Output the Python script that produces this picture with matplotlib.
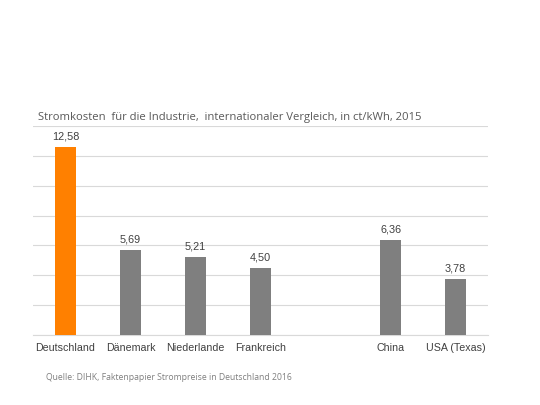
import matplotlib
matplotlib.use("Agg")
import matplotlib.pyplot as plt
import numpy as np

# Data (slot 5 is an empty gap between Europe and the rest)
countries = ["Deutschland", "Dänemark", "Niederlande", "Frankreich", "", "China", "USA (Texas)"]
costs = [12.58, 5.69, 5.21, 4.50, np.nan, 6.36, 3.78]
value_labels = ["12,58", "5,69", "5,21", "4,50", "", "6,36", "3,78"]

title = "Stromkosten  für die Industrie,  internationaler Vergleich, in ct/kWh, 2015"
source = "Quelle: DIHK, Faktenpapier Strompreise in Deutschland 2016"

colors = ["#FF8000" if c == "Deutschland" else "#7F7F7F" for c in countries]

fig = plt.figure(figsize=(5.4, 4.05), dpi=100)
ax = fig.add_axes([0.061, 0.173, 0.843, 0.516])

x_pos = np.arange(len(countries))
ax.bar(x_pos, costs, width=0.32, color=colors, zorder=3)

# value labels above bars
for i, (v, lab) in enumerate(zip(costs, value_labels)):
    if np.isnan(v):
        continue
    ax.text(x_pos[i], v + 0.35, lab, ha="center", va="bottom",
            fontsize=7.8, color="#404040", family="Liberation Sans")

ax.set_xlim(-0.5, len(countries) - 0.5)
ax.set_ylim(0, 14)
ax.set_yticks(np.arange(0, 15, 2))
ax.yaxis.grid(True, color="#D9D9D9", lw=0.8, zorder=0)
ax.tick_params(axis="y", left=False, labelleft=False)
ax.tick_params(axis="x", length=0, pad=6)
ax.set_xticks(x_pos)
ax.set_xticklabels(countries, fontsize=7.7, color="#404040", family="Liberation Sans")

for side in ["top", "right", "left"]:
    ax.spines[side].set_visible(False)
ax.spines["bottom"].set_color("#D9D9D9")
ax.spines["bottom"].set_linewidth(0.8)

fig.text(0.07, 0.709, title, fontsize=8.1, color="#595959", family="Open Sans",
         va="center", ha="left")
fig.text(0.085, 0.067, source, fontsize=6.2, color="#7F7F7F", family="Open Sans",
         va="center", ha="left")

plt.savefig("out.png", dpi=100)
